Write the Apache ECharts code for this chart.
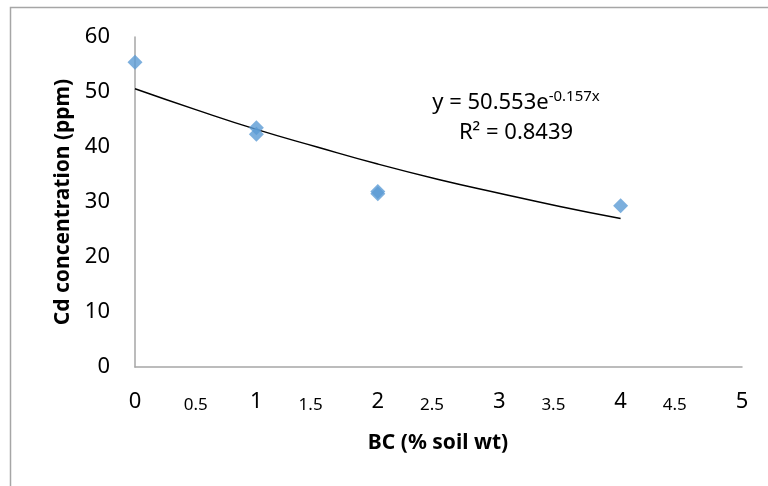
<!DOCTYPE html>
<html>
<head>
<meta charset="utf-8">
<script src="https://cdn.jsdelivr.net/npm/echarts@6/dist/echarts.min.js"></script>
<style>html,body{margin:0;padding:0;background:#fff}#c{width:768px;height:486px}</style>
</head>
<body>
<div id="c"></div>
<script>
// Observed points (BC % soil wt, Cd ppm)
const bcValues = [0, 1, 1, 2, 2, 4];
const cdValues = [55.4, 43.5, 42.3, 31.9, 31.5, 29.3];
// Exponential trend line
const trendX = [0, 0.5, 1, 1.5, 2, 2.5, 3, 3.5, 4];
const trendY = [50.6, 46.8, 43.2, 40.0, 36.9, 34.1, 31.6, 29.2, 27.0];
const xTicks = [0, 0.5, 1, 1.5, 2, 2.5, 3, 3.5, 4, 4.5, 5];
const yTicks = [0, 10, 20, 30, 40, 50, 60];
const eqText = 'y = 50.553e';
const eqExp = '-0.157x';
const r2Text = 'R² = 0.8439';
const xTitle = 'BC (% soil wt)';
const yTitle = 'Cd concentration (ppm)';

const FONT = '"Noto Sans", "Liberation Sans", sans-serif';
const chart = echarts.init(document.getElementById('c'));
const pts = bcValues.map((x, i) => [x, cdValues[i]]);
const trend = trendX.map((x, i) => [x, trendY[i]]);

chart.setOption({
  animation: false,
  backgroundColor: '#fff',
  grid: {left: 135, right: 26, top: 37, bottom: 119},
  xAxis: {
    type: 'value', min: 0, max: 5, interval: 0.5,
    axisLine: {show: true, lineStyle: {color: '#a6a6a6', width: 1.5}},
    axisTick: {show: false},
    splitLine: {show: false},
    axisLabel: {
      margin: 24,
      fontFamily: FONT,
      color: '#000',
      formatter: function (v) {
        if (Math.abs(v - Math.round(v)) < 1e-9) return '{i|' + v + '}';
        if (v < 1) return '{a|' + v + '}';
        return '{h|' + v + '}';
      },
      rich: {
        i: {fontSize: 22, fontFamily: FONT, color: '#000'},
        a: {fontSize: 17, fontFamily: FONT, color: '#000', padding: [6, 0, 0, 0]},
        h: {fontSize: 17, fontFamily: FONT, color: '#000', padding: [6, 13, 0, 0]}
      }
    }
  },
  yAxis: {
    type: 'value', min: 0, max: 60, interval: 10,
    axisLine: {show: true, lineStyle: {color: '#a6a6a6', width: 1.5}},
    axisTick: {show: false},
    splitLine: {show: false},
    axisLabel: {margin: 25, fontSize: 22, fontFamily: FONT, color: '#000',
      formatter: v => yTicks.indexOf(v) >= 0 ? String(v) : ''}
  },
  series: [
    {
      type: 'line', data: trend, smooth: true, symbol: 'none',
      lineStyle: {color: '#000', width: 1.5}, z: 2
    },
    {
      type: 'scatter', data: pts,
      symbol: 'path://M0,-1 L1,0 L0,1 L-1,0 Z', symbolSize: 15,
      itemStyle: {color: '#5b9bd5'}, z: 3
    }
  ],
  graphic: [
    {type: 'rect', silent: true, shape: {x: 10.5, y: 7.5, width: 900, height: 700},
      style: {fill: 'none', stroke: '#a6a6a6', lineWidth: 1.5}, z: -1},
    {type: 'text', x: 63, y: 202, rotation: Math.PI / 2,
      style: {text: yTitle, font: 'bold 21px ' + FONT, fill: '#000', textAlign: 'center', textVerticalAlign: 'middle'}},
    {type: 'text', x: 438, y: 443,
      style: {text: xTitle, font: 'bold 21px ' + FONT, fill: '#000', textAlign: 'center', textVerticalAlign: 'middle'}},
    {type: 'text', x: 516, y: 103,
      style: {text: eqText + '{s|' + eqExp + '}', fontSize: 22, fontFamily: FONT, fill: '#000',
        textAlign: 'center', textVerticalAlign: 'middle',
        rich: {s: {fontSize: 15, fontFamily: FONT, fill: '#000', padding: [0, 0, 12, 0]}}}},
    {type: 'text', x: 516, y: 133,
      style: {text: r2Text, fontSize: 22, fontFamily: FONT, fill: '#000', textAlign: 'center', textVerticalAlign: 'middle'}}
  ]
});
</script>
</body>
</html>
